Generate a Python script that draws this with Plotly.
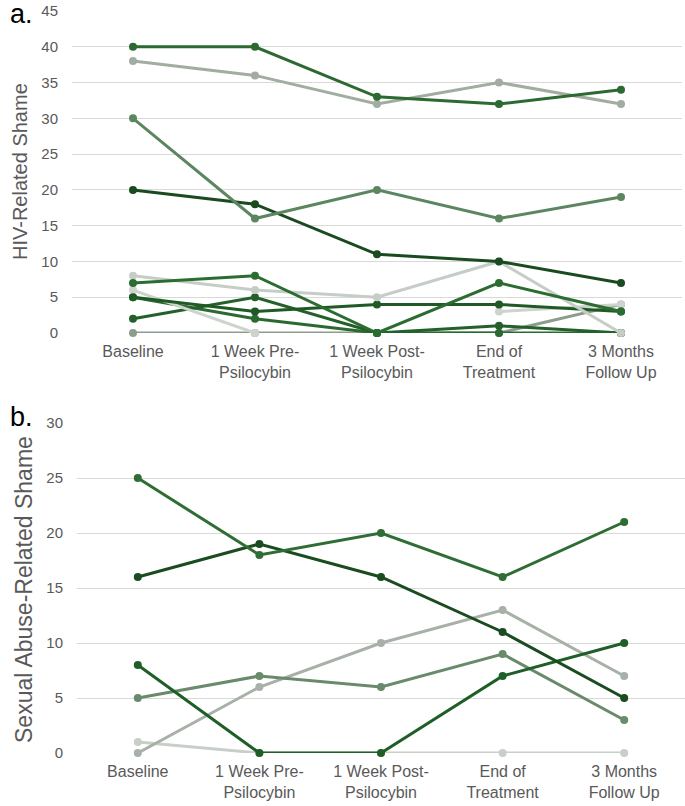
import plotly.graph_objects as go

categories = ["Baseline", "1 Week Pre-<br>Psilocybin", "1 Week Post-<br>Psilocybin",
              "End of<br>Treatment", "3 Months<br>Follow Up"]

# Panel a: HIV-related shame (one list per participant)
hiv_series = [
    [0, 0, 0, 0, 4],
    [5, 2, 0, 0, 0],
    [2, 5, 0, 1, 0],
    [6, 0, None, 3, 4],
    [5, 3, 4, 4, 3],
    [8, 6, 5, 10, 0],
    [7, 8, 0, 7, 3],
    [20, 18, 11, 10, 7],
    [30, 16, 20, 16, 19],
    [38, 36, 32, 35, 32],
    [40, 40, 33, 32, 34],
]
hiv_colors = ["#8e9c8e", "#2a6a30", "#24602a", "#cdd3cd", "#1f5a25", "#c6cdc6",
              "#2b6d31", "#1a4a1f", "#5b8660", "#a2ada2", "#2c6a31"]

# Panel b: sexual abuse-related shame
sa_series = [
    [1, 0, 0, 0, 0],
    [0, 6, 10, 13, 7],
    [5, 7, 6, 9, 3],
    [8, 0, 0, 7, 10],
    [16, 19, 16, 11, 5],
    [25, 18, 20, 16, 21],
]
sa_colors = ["#c8cec8", "#a7b1a7", "#6a8a6c", "#1f5e26", "#1b4c20", "#2e6d33"]

fig = go.Figure()
for vals, col in zip(hiv_series, hiv_colors):
    fig.add_trace(go.Scatter(x=categories, y=vals, mode="lines+markers",
                             line=dict(color=col, width=3), marker=dict(color=col, size=8),
                             cliponaxis=False, xaxis="x", yaxis="y", showlegend=False))
for vals, col in zip(sa_series, sa_colors):
    fig.add_trace(go.Scatter(x=categories, y=vals, mode="lines+markers",
                             line=dict(color=col, width=3), marker=dict(color=col, size=8),
                             cliponaxis=False, xaxis="x2", yaxis="y2", showlegend=False))

W, H = 685, 806
font_family = "Liberation Sans, Arial, sans-serif"
ytick_font = dict(family=font_family, size=15, color="#595959")
xtick_font = dict(family=font_family, size=16, color="#595959")

xcommon = dict(type="category", range=[-0.5, 4.5], showgrid=False, showline=False,
               zeroline=False, ticks="outside", ticklen=4, tickcolor="rgba(0,0,0,0)",
               tickfont=xtick_font, tickangle=0, automargin=False)
ycommon = dict(showgrid=True, gridcolor="#d9d9d9", gridwidth=1, zeroline=False,
               showline=False, ticks="outside", ticklen=10, tickcolor="rgba(0,0,0,0)",
               tickfont=ytick_font, dtick=5, automargin=False)

fig.update_layout(
    width=W, height=H,
    margin=dict(l=0, r=0, t=0, b=0),
    paper_bgcolor="white", plot_bgcolor="white",
    xaxis=dict(domain=[72 / W, 682 / W], anchor="y", **xcommon),
    yaxis=dict(domain=[1 - 333 / H, 1 - 11 / H], anchor="x", range=[0, 45], **ycommon),
    xaxis2=dict(domain=[77 / W, 685 / W], anchor="y2", **xcommon),
    yaxis2=dict(domain=[1 - 753 / H, 1 - 423 / H], anchor="x2", range=[0, 30], **ycommon),
    annotations=[
        dict(text="a.", x=8 / W, y=1 - 14 / H, xref="paper", yref="paper",
             xanchor="left", yanchor="middle", showarrow=False,
             font=dict(family=font_family, size=27, color="#000000")),
        dict(text="b.", x=8 / W, y=1 - 417 / H, xref="paper", yref="paper",
             xanchor="left", yanchor="middle", showarrow=False,
             font=dict(family=font_family, size=27, color="#000000")),
        dict(text="HIV-Related Shame", textangle=-90, x=20 / W, y=1 - 172 / H,
             xref="paper", yref="paper", xanchor="center", yanchor="middle",
             showarrow=False, font=dict(family=font_family, size=20, color="#595959")),
        dict(text="Sexual Abuse-Related Shame", textangle=-90, x=24 / W, y=1 - 590 / H,
             xref="paper", yref="paper", xanchor="center", yanchor="middle",
             showarrow=False, font=dict(family=font_family, size=23, color="#595959")),
    ],
)

fig.write_html("out.html", config={"displayModeBar": False},
               post_script="document.body.style.margin='0';")
